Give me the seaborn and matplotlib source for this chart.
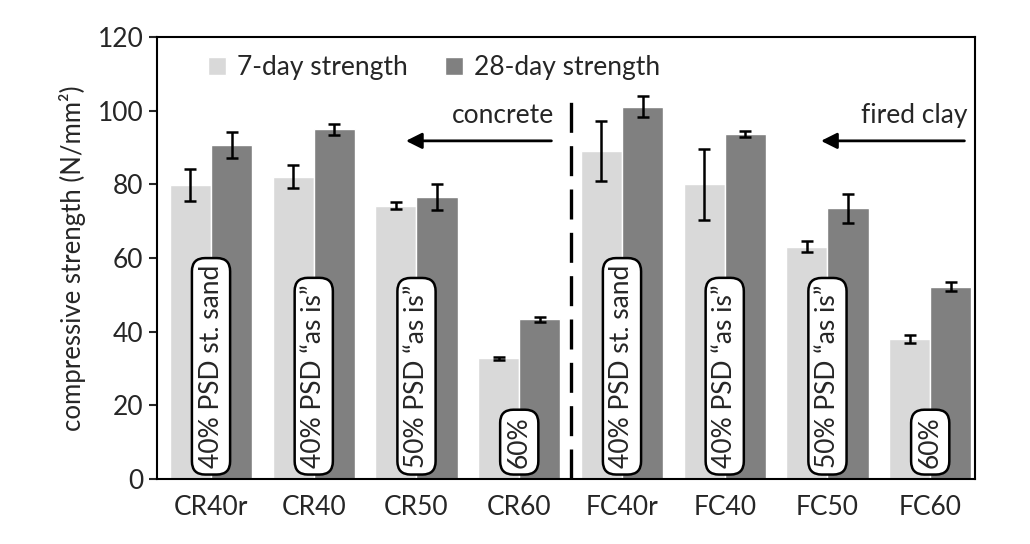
import matplotlib
matplotlib.use("Agg")
import matplotlib.pyplot as plt
import pandas as pd
import seaborn as sns

# Data
mixes = ["CR40r", "CR40", "CR50", "CR60", "FC40r", "FC40", "FC50", "FC60"]
day7 = [79.8, 82.1, 74.2, 32.8, 89.1, 80.0, 63.1, 38.0]
day7_err = [4.3, 3.2, 0.9, 0.4, 8.2, 9.7, 1.4, 1.0]
day28 = [90.7, 94.9, 76.5, 43.4, 101.1, 93.6, 73.5, 52.2]
day28_err = [3.5, 1.4, 3.5, 0.7, 2.8, 0.8, 4.0, 1.2]
box_labels = ["40% PSD st. sand", "40% PSD \u201cas is\u201d", "50% PSD \u201cas is\u201d", "60%",
              "40% PSD st. sand", "40% PSD \u201cas is\u201d", "50% PSD \u201cas is\u201d", "60%"]
series = ["7-day strength", "28-day strength"]

df = pd.DataFrame({
    "mix": mixes * 2,
    "strength": day7 + day28,
    "age": [series[0]] * len(mixes) + [series[1]] * len(mixes),
})

sns.set_style("white")
plt.rcParams["font.family"] = ["Lato", "DejaVu Sans"]
FS = 19

fig = plt.figure(figsize=(10.3, 5.44), dpi=100)
ax = fig.add_axes([0.152, 0.1195, 0.795, 0.8125])

sns.barplot(data=df, x="mix", y="strength", hue="age", order=mixes,
            palette=["#d9d9d9", "#808080"], errorbar=None, width=0.8,
            saturation=1, ax=ax)

# error bars on top of each bar
for cont, errs in zip(ax.containers, [day7_err, day28_err]):
    xs = [p.get_x() + p.get_width() / 2 for p in cont]
    ys = [p.get_height() for p in cont]
    ax.errorbar(xs, ys, yerr=errs, fmt="none", ecolor="black",
                elinewidth=1.8, capsize=4.5, capthick=1.8, zorder=4)

# rotated labels in rounded boxes
for i, lab in enumerate(box_labels):
    ax.text(i, 3.0, lab, rotation=90, ha="center", va="bottom",
            fontsize=FS, zorder=5,
            bbox=dict(boxstyle="round,pad=0.25,rounding_size=0.5",
                      fc="white", ec="black", lw=1.8))

# separator between the two aggregate types
ax.axvline(3.5, ymin=0, ymax=104 / 120, color="black", lw=2.4,
           dashes=(9, 4), zorder=3)

# arrows and group labels
ax.annotate("", xy=(1.87, 91.8), xytext=(3.34, 91.8),
            arrowprops=dict(arrowstyle="-|>", lw=2, color="black",
                            mutation_scale=24))
ax.text(3.34, 98.6, "concrete", ha="right", va="center", fontsize=FS)
ax.annotate("", xy=(5.91, 91.8), xytext=(7.36, 91.8),
            arrowprops=dict(arrowstyle="-|>", lw=2, color="black",
                            mutation_scale=24))
ax.text(7.36, 98.6, "fired clay", ha="right", va="center", fontsize=FS)

ax.set_ylim(0, 120)
ax.set_xlim(-0.53, 7.44)
ax.set_yticks(range(0, 121, 20))
ax.set_xlabel("")
ax.set_ylabel("compressive strength (N/mm\u00b2)", fontsize=18.5, labelpad=8)
ax.tick_params(axis="y", left=True, length=6, width=1.5, labelsize=FS,
               direction="out")
ax.tick_params(axis="x", bottom=False, labelsize=FS, pad=8)
for s in ax.spines.values():
    s.set_color("black")
    s.set_linewidth(1.5)

ax.legend(loc="upper left", bbox_to_anchor=(0.04, 1.0), ncol=2,
          frameon=False, fontsize=FS, handlelength=0.7, handleheight=0.7,
          handletextpad=0.4, columnspacing=1.4, borderaxespad=0.3)

fig.savefig("out.png", dpi=100)
